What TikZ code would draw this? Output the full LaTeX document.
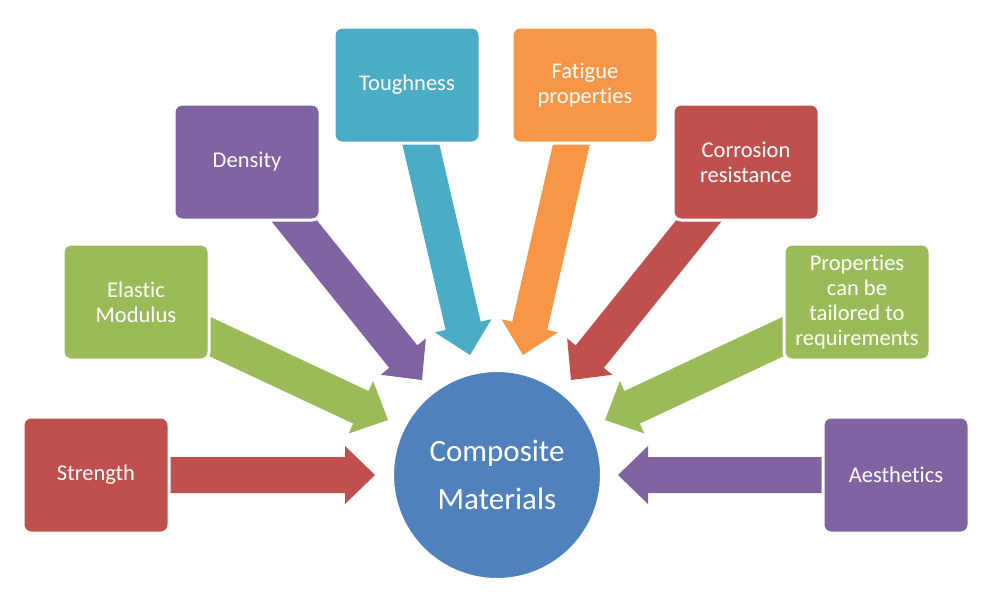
\documentclass[tikz,border=0pt]{standalone}
\usepackage{fontspec}
\setmainfont{Carlito}[Ligatures={NoCommon}]
\usetikzlibrary{calc,backgrounds}
\definecolor{cred}{HTML}{C0504D}
\definecolor{cgreen}{HTML}{9BBB59}
\definecolor{cpurple}{HTML}{8064A2}
\definecolor{cteal}{HTML}{4BACC6}
\definecolor{corange}{HTML}{F79646}
\definecolor{cblue}{HTML}{4F81BD}
\newcommand{\blockarrow}[3]{%
  \coordinate (#1-#2-h) at ($(#2.center)!15pt!(#1.center)$);
  \fill[#3] ($(#1.center)!9pt!90:(#2.center)$) -- ($(#1-#2-h)!9pt!90:(#2.center)$)
    -- ($(#1-#2-h)!14.5pt!90:(#2.center)$) -- (#2.center)
    -- ($(#1-#2-h)!14.5pt!-90:(#2.center)$) -- ($(#1-#2-h)!9pt!-90:(#2.center)$)
    -- ($(#1.center)!9pt!-90:(#2.center)$) -- cycle;
}
\tikzset{
  boxnode/.style={rounded corners=4pt, draw=white, line width=1.5pt,
    minimum width=73pt, minimum height=58pt, align=center, text=white,
    font=\fontsize{11.25}{12.6}\selectfont, inner sep=1pt},
  hub/.style={circle, fill=cblue, draw=white, line width=1pt, minimum size=104pt,
    align=center, text=white, font=\fontsize{15.5}{24}\selectfont}
}
\begin{document}
\begin{tikzpicture}[x=0.5pt,y=-0.5pt]
\useasboundingbox (0,0) rectangle (1000,596);
\node[hub] (comp) at (497,475) {Composite\\Materials};
\node[boxnode, fill=cred] (strength) at (96,475) {Strength};
\node[boxnode, fill=cgreen] (elastic) at (136,302) {Elastic\\Modulus};
\node[boxnode, fill=cpurple] (density) at (247,162) {Density};
\node[boxnode, fill=cteal] (tough) at (407,85) {Toughness};
\node[boxnode, fill=corange] (fatigue) at (585,85) {Fatigue\\properties};
\node[boxnode, fill=cred] (corr) at (746,162) {Corrosion\\resistance};
\node[boxnode, fill=cgreen] (tailor) at (857,302) {Properties\\can be\\tailored to\\requirements};
\node[boxnode, fill=cpurple] (aesth) at (896,475) {Aesthetics};
\coordinate (tS) at (375,475);
\coordinate (tE) at (388,420);
\coordinate (tD) at (422,380);
\coordinate (tT) at (470,355);
\coordinate (tF) at (523,355);
\coordinate (tC) at (571,380);
\coordinate (tP) at (605,420);
\coordinate (tA) at (618,475);
\begin{pgfonlayer}{background}
\fill[white] (0,0) rectangle (1000,596);
\blockarrow{strength}{tS}{cred}
\blockarrow{elastic}{tE}{cgreen}
\blockarrow{density}{tD}{cpurple}
\blockarrow{tough}{tT}{cteal}
\blockarrow{fatigue}{tF}{corange}
\blockarrow{corr}{tC}{cred}
\blockarrow{tailor}{tP}{cgreen}
\blockarrow{aesth}{tA}{cpurple}
\end{pgfonlayer}
\end{tikzpicture}
\end{document}
